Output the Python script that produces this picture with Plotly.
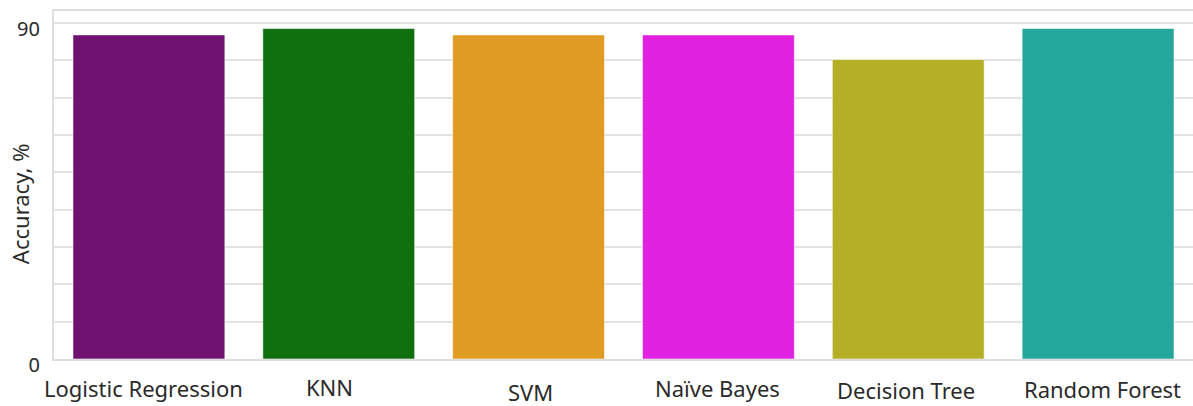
import plotly.graph_objects as go

models = ["Logistic Regression", "KNN", "SVM", "Naïve Bayes", "Decision Tree", "Random Forest"]
accuracy = [86.8, 88.5, 86.8, 86.8, 80.2, 88.5]
colors = ["#6f116f", "#107010", "#e09c22", "#e021e0", "#b5af28", "#24a69b"]
y_ticks = [0, 90]
y_tick_text = ["0", "90"]

# label offsets (pixels) to mimic the staggered category labels of the reference
label_dx = [-5, -9, 2, -1, -2, 4]
label_dy = [1, 2, -3, 1, -1, 0]

FONT = "Noto Sans, Open Sans, sans-serif"
TXT = "#2a2a2a"

fig = go.Figure()
fig.add_trace(go.Bar(
    x=models, y=accuracy,
    marker=dict(color=colors, line=dict(color="rgba(255,255,255,0.55)", width=1)),
    showlegend=False,
))

for i, m in enumerate(models):
    fig.add_annotation(
        x=m, y=0, xref="x", yref="y", text=m, showarrow=False,
        yanchor="middle", xanchor="center", borderpad=0,
        xshift=label_dx[i], yshift=-30 + label_dy[i],
        font=dict(family=FONT, size=22, color=TXT),
    )

fig.add_annotation(
    text="Accuracy, %", xref="paper", yref="paper", x=0, y=0.445,
    xshift=-34, showarrow=False, textangle=-90,
    xanchor="center", yanchor="middle",
    font=dict(family=FONT, size=22, color=TXT),
)

fig.update_layout(
    width=1193, height=406,
    margin=dict(l=54, r=0, t=11, b=47, autoexpand=False),
    paper_bgcolor="white", plot_bgcolor="white",
    bargap=0.2,
    font=dict(family=FONT, size=20, color=TXT),
    xaxis=dict(
        range=[-0.5, len(models) - 0.5],
        showticklabels=False, showgrid=False, zeroline=False, automargin=False,
        showline=True, mirror=True, linecolor="#dedede", linewidth=2,
        ticks="",
    ),
    yaxis=dict(
        range=[0, 93.2], tickvals=y_ticks, ticktext=y_tick_text,
        showgrid=False, zeroline=False, automargin=False,
        showline=True, linecolor="#dedede", linewidth=2,
        ticks="", ticklabelshift=6, ticklabelstandoff=8,
        tickfont=dict(family=FONT, size=20, color=TXT),
        minor=dict(dtick=10, tick0=0, showgrid=True, gridcolor="#e3e3e3", gridwidth=2, ticks=""),
    ),
)

fig.write_html(
    "out.html",
    config={"displayModeBar": False},
    post_script="document.body.style.margin='0px';document.body.style.overflow='hidden';",
)
